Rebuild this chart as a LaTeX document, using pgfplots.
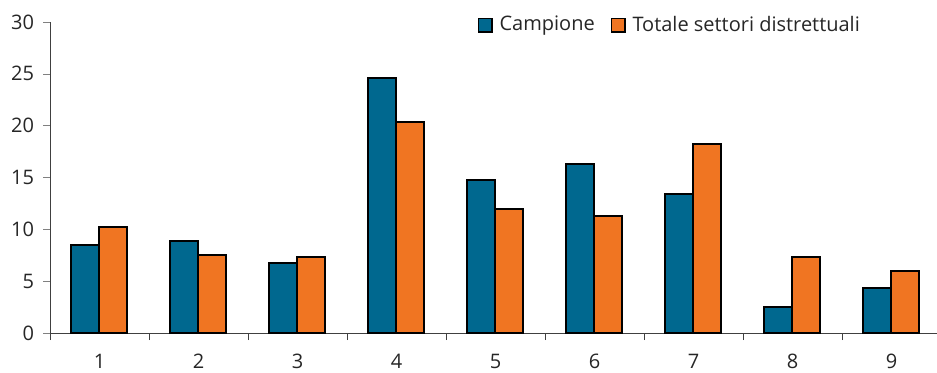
\documentclass[border=0pt]{standalone}
\usepackage{pgfplots}
\pgfplotsset{compat=1.18}
\usepackage{fontspec}
\setmainfont{Open Sans}

\definecolor{campblue}{RGB}{0,104,143}
\definecolor{totorange}{RGB}{240,117,34}

\begin{document}
\begin{tikzpicture}
\path[use as bounding box] (-25pt,-19.5pt) rectangle (443.5pt,166.5pt);
\begin{axis}[
    scale only axis,
    width=443.5pt, height=155.5pt,
    ybar=0pt, bar width=14pt,
    xmin=0.5, xmax=9.46,
    ymin=0, ymax=30,
    axis x line*=bottom, axis y line*=left,
    axis line style={black!75, line width=0.5pt},
    xtick={1,...,9},
    major x tick style={draw=none},
    minor xtick={0.5,1.5,...,9.5},
    minor x tick style={black!75},
    ytick={0,5,...,30},
    tick align=outside,
    major tick length=3.5pt, minor tick length=3.5pt,
    xticklabel style={yshift=-3.5pt},
    yticklabel style={xshift=-1pt},
    /pgf/number format/assume math mode=true,
    tick label style={font=\fontsize{10}{12}\selectfont, text=black!85},
    legend style={draw=none, fill=none, at={(rel axis cs:0.918,0.99)}, anchor=east,
        legend columns=-1, font=\fontsize{10}{12}\selectfont, text=black!85,
        inner sep=0pt,
        /tikz/every odd column/.append style={column sep=1.5pt},
        /tikz/every even column/.append style={column sep=6pt}},
    legend image code/.code={\draw[#1, line width=0.8pt] (0pt,-3.3pt) rectangle (6.6pt,3.3pt);},
]
\addplot[fill=campblue, draw=black, line width=1pt] coordinates {
    (1,8.5) (2,8.9) (3,6.75) (4,24.6) (5,14.75) (6,16.3) (7,13.4) (8,2.55) (9,4.3)};
\addplot[fill=totorange, draw=black, line width=1pt] coordinates {
    (1,10.2) (2,7.5) (3,7.3) (4,20.35) (5,12.0) (6,11.3) (7,18.2) (8,7.35) (9,6.0)};
\legend{Campione, Totale settori distrettuali}
\end{axis}
\end{tikzpicture}
\end{document}
